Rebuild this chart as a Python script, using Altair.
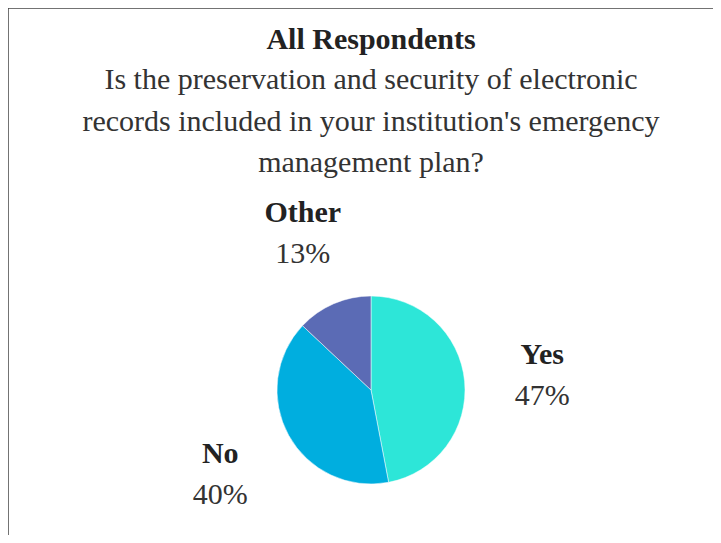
import altair as alt
import pandas as pd

categories = ["Yes", "No", "Other"]
values = [47, 40, 13]
labels = ["47%", "40%", "13%"]
colors = ["#2DE6D8", "#00AEDF", "#5B6BB5"]

title = "All Respondents"
subtitle_lines = [
    "Is the preservation and security of electronic",
    "records included in your institution's emergency",
    "management plan?",
]

df = pd.DataFrame({"cat": categories, "val": values, "lab": labels, "order": [0, 1, 2]})

W, H = 705, 527
CX, CY = 363, 382
FONT = "Liberation Serif"
FS = 30

base = alt.Chart(df)

theta = alt.Theta("val:Q", stack=True)
order = alt.Order("order:Q")

pie = base.mark_arc(outerRadius=94, stroke="white", strokeWidth=0.5).encode(
    theta=theta,
    order=order,
    color=alt.Color("cat:N", scale=alt.Scale(domain=categories, range=colors), legend=None),
    x=alt.value(CX),
    y=alt.value(CY),
)

cat_text = base.mark_text(
    radius=172, font=FONT, fontSize=FS, fontWeight="bold", color="#222", dy=-19
).encode(theta=theta, order=order, text="cat:N", x=alt.value(CX), y=alt.value(CY))

pct_text = base.mark_text(
    radius=172, font=FONT, fontSize=FS, color="#333", dy=22
).encode(theta=theta, order=order, text="lab:N", x=alt.value(CX), y=alt.value(CY))

tdf = pd.DataFrame({"t": [title]})
title_text = alt.Chart(tdf).mark_text(
    font=FONT, fontSize=FS, fontWeight="bold", color="#222"
).encode(text="t:N", x=alt.value(CX), y=alt.value(32))

sdf = pd.DataFrame({"t": subtitle_lines, "i": [0, 1, 2]})
sub_text = alt.Chart(sdf).mark_text(
    font=FONT, fontSize=FS, color="#333", baseline="middle"
).encode(
    text="t:N",
    x=alt.value(CX),
    y=alt.Y("i:Q", scale=alt.Scale(domain=[0, 2], range=[72, 155]), axis=None),
)

border_top = alt.Chart(tdf).mark_rule(color="#444", strokeWidth=1.5).encode(
    x=alt.value(0), x2=alt.value(W), y=alt.value(0)
)
border_left = alt.Chart(tdf).mark_rule(color="#444", strokeWidth=1.5).encode(
    x=alt.value(0), y=alt.value(0), y2=alt.value(H)
)

chart = alt.layer(border_top, border_left, pie, cat_text, pct_text, title_text, sub_text).properties(
    width=W, height=H, padding=0, autosize=alt.AutoSizeParams(type="none")
).configure_view(stroke=None)

chart.save("out.html", embed_options={"renderer": "svg", "actions": False})
